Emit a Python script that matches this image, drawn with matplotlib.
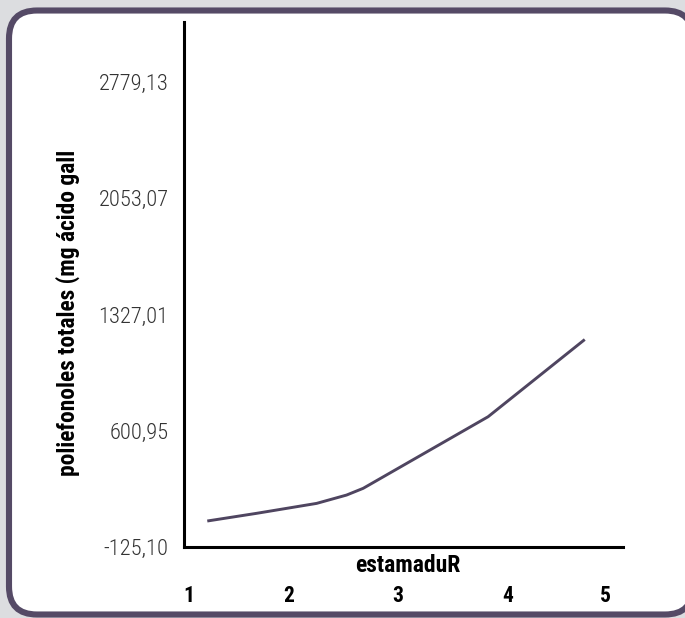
import matplotlib
matplotlib.use("Agg")
import matplotlib.pyplot as plt
from matplotlib.patches import FancyBboxPatch
from matplotlib.transforms import IdentityTransform

# Stage positions along the horizontal axis and total polyphenol values
stage_x = [1.173, 1.648, 2.225, 2.513, 2.673, 3.875, 4.805]
polifenoles = [39, 87, 149, 201, 243, 690, 1172]

# Axis ticks
ytick_values = [-125.10, 600.95, 1327.01, 2053.07, 2779.13]
ytick_labels = ["-125,10", "600,95", "1327,01", "2053,07", "2779,13"]
xtick_pos = [1.0, 1.952, 3.004, 4.062, 5.0]
xtick_labels = ["1", "2", "3", "4", "5"]

y_label = "poliefonoles totales (mg ácido gall"
x_label = "estamaduR"

plt.rcParams["font.family"] = ["Roboto Condensed", "Roboto", "DejaVu Sans"]

W, H = 685, 618
fig = plt.figure(figsize=(W / 100, H / 100), dpi=100)
fig.patch.set_facecolor("#dcdde0")

# Rounded frame around the chart
frame = FancyBboxPatch((9, 3.5), 684, 604,
                       boxstyle="round,pad=0,rounding_size=28",
                       transform=IdentityTransform(),
                       facecolor="white", edgecolor="#554a66",
                       linewidth=4.4, zorder=-10)
fig.patches.append(frame)

left, right = 184 / W, 623.3 / W
bottom, top = 1 - 547.3 / H, 1 - 22.5 / H
ax = fig.add_axes([left, bottom, right - left, top - bottom])
ax.set_facecolor("none")
ax.set_zorder(5)

ax.plot(stage_x, polifenoles, color="#4f4560", linewidth=2.1,
        solid_capstyle="butt", solid_joinstyle="round")

ax.set_xlim(0.949, 5.176)
ax.set_ylim(-125.10, 3151)

for s in ("top", "right"):
    ax.spines[s].set_visible(False)
for s in ("left", "bottom"):
    ax.spines[s].set_linewidth(2.2)
    ax.spines[s].set_color("black")

ax.set_yticks(ytick_values)
ax.set_yticklabels(ytick_labels, fontsize=16.2, fontweight="light", color="#333333")
ax.tick_params(axis="y", length=0, pad=11)

ax.set_xticks(xtick_pos)
ax.set_xticklabels(xtick_labels, fontsize=15.5, fontweight="bold", color="black")
ax.tick_params(axis="x", length=0, pad=27)

fig.text(408.3 / W, 1 - 565 / H, x_label, ha="center", va="center",
         fontsize=17, fontweight="bold", color="black", zorder=6)
fig.text(68 / W, 1 - 313 / H, y_label, ha="center", va="center",
         rotation=90, fontsize=16.9, fontweight="bold", color="black", zorder=6)

fig.savefig("out.png", dpi=100, facecolor=fig.get_facecolor())
